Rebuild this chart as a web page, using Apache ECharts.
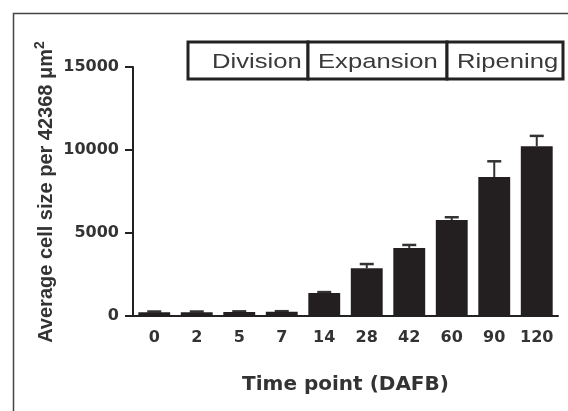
<!DOCTYPE html>
<html>
<head>
<meta charset="utf-8">
<script src="https://cdn.jsdelivr.net/npm/echarts@6/dist/echarts.min.js"></script>
<style>
  html, body { margin: 0; padding: 0; background: #fff; }
  #chart { width: 568px; height: 411px; }
</style>
</head>
<body>
<div id="chart"></div>
<script>
// time points (days after full bloom)
const timePoints = ['0', '2', '5', '7', '14', '28', '42', '60', '90', '120']
// mean cell size and upper error (SE)
const cellSize = [230, 230, 240, 250, 1380, 2880, 4100, 5780, 8370, 10230]
const cellErr = [40, 40, 40, 40, 60, 250, 180, 170, 950, 620]
const yTicks = [0, 5000, 10000, 15000]
const phases = ['Division', 'Expansion', 'Ripening']
const yTitle = 'Average cell size per 42368 μm{sup|2}'

const wide = '"DejaVu Sans", sans-serif'
const arial = '"Liberation Sans", Arial, sans-serif'
const ink = '#222'

const myChart = echarts.init(document.getElementById('chart'))

// phase boxes on top: box x, box width, text left
const phaseBox = [[188, 120, 212], [308, 139, 318], [447, 116, 457]]
const graphics = [
  // outer frame, left and top edges only
  { type: 'polyline', shape: { points: [[13.5, 411], [13.5, 13.5], [568, 13.5]] }, style: { stroke: '#444', lineWidth: 1.5, fill: null } },
  // y axis title, rotated
  {
    type: 'text',
    x: 46,
    y: 192,
    rotation: Math.PI / 2,
    style: {
      text: yTitle,
      font: 'bold 20px ' + arial,
      fill: '#333',
      align: 'center',
      verticalAlign: 'middle',
      rich: { sup: { font: 'bold 14px ' + arial, fill: '#333', verticalAlign: 'top', lineHeight: 26 } }
    }
  }
]
phases.forEach((p, i) => {
  graphics.push({
    type: 'rect',
    shape: { x: phaseBox[i][0], y: 42, width: phaseBox[i][1], height: 37 },
    style: { fill: '#fff', stroke: ink, lineWidth: 3 }
  })
  graphics.push({
    type: 'text',
    x: phaseBox[i][2],
    y: 62,
    scaleX: 1.22,
    style: { text: p, font: '21px ' + arial, fill: '#3a3a3a', align: 'left', verticalAlign: 'middle' }
  })
})

const option = {
  animation: false,
  grid: { left: 133, right: 10, top: 67, bottom: 95 },
  xAxis: {
    type: 'category',
    data: timePoints,
    name: 'Time point (DAFB)',
    nameLocation: 'middle',
    nameGap: 59,
    nameTextStyle: { fontFamily: wide, fontWeight: 'bold', fontSize: 20, color: '#333' },
    axisLine: { lineStyle: { color: ink, width: 2 } },
    axisTick: { alignWithLabel: true, length: 7, lineStyle: { color: ink, width: 2 } },
    axisLabel: { interval: 0, margin: 14, fontFamily: wide, fontWeight: 'bold', fontSize: 16, color: '#333' }
  },
  yAxis: {
    type: 'value',
    min: 0,
    max: 15000,
    interval: 5000,
    axisLine: { show: true, lineStyle: { color: ink, width: 2 } },
    axisTick: { show: true, length: 8, lineStyle: { color: ink, width: 2 } },
    axisLabel: {
      margin: 14, fontFamily: wide, fontWeight: 'bold', fontSize: 16, color: '#333',
      formatter: v => (yTicks.indexOf(v) >= 0 ? String(v) : '')
    },
    splitLine: { show: false }
  },
  series: [
    {
      type: 'bar',
      data: cellSize,
      barCategoryGap: '25%',
      itemStyle: { color: '#231f20' },
      z: 2
    },
    {
      type: 'custom',
      data: cellSize.map((v, i) => [i, v, v + cellErr[i]]),
      z: 1,
      renderItem(params, api) {
        const base = api.coord([api.value(0), api.value(1)])
        const top = api.coord([api.value(0), api.value(2)])
        const half = 7
        return {
          type: 'group',
          children: [
            { type: 'line', shape: { x1: base[0], y1: base[1], x2: top[0], y2: top[1] }, style: { stroke: '#333', lineWidth: 2 } },
            { type: 'line', shape: { x1: top[0] - half, y1: top[1], x2: top[0] + half, y2: top[1] }, style: { stroke: '#333', lineWidth: 2.5 } }
          ]
        }
      }
    }
  ],
  graphic: graphics
}

myChart.setOption(option)
window.addEventListener('resize', () => {
  myChart.resize()
})
</script>
</body>
</html>
